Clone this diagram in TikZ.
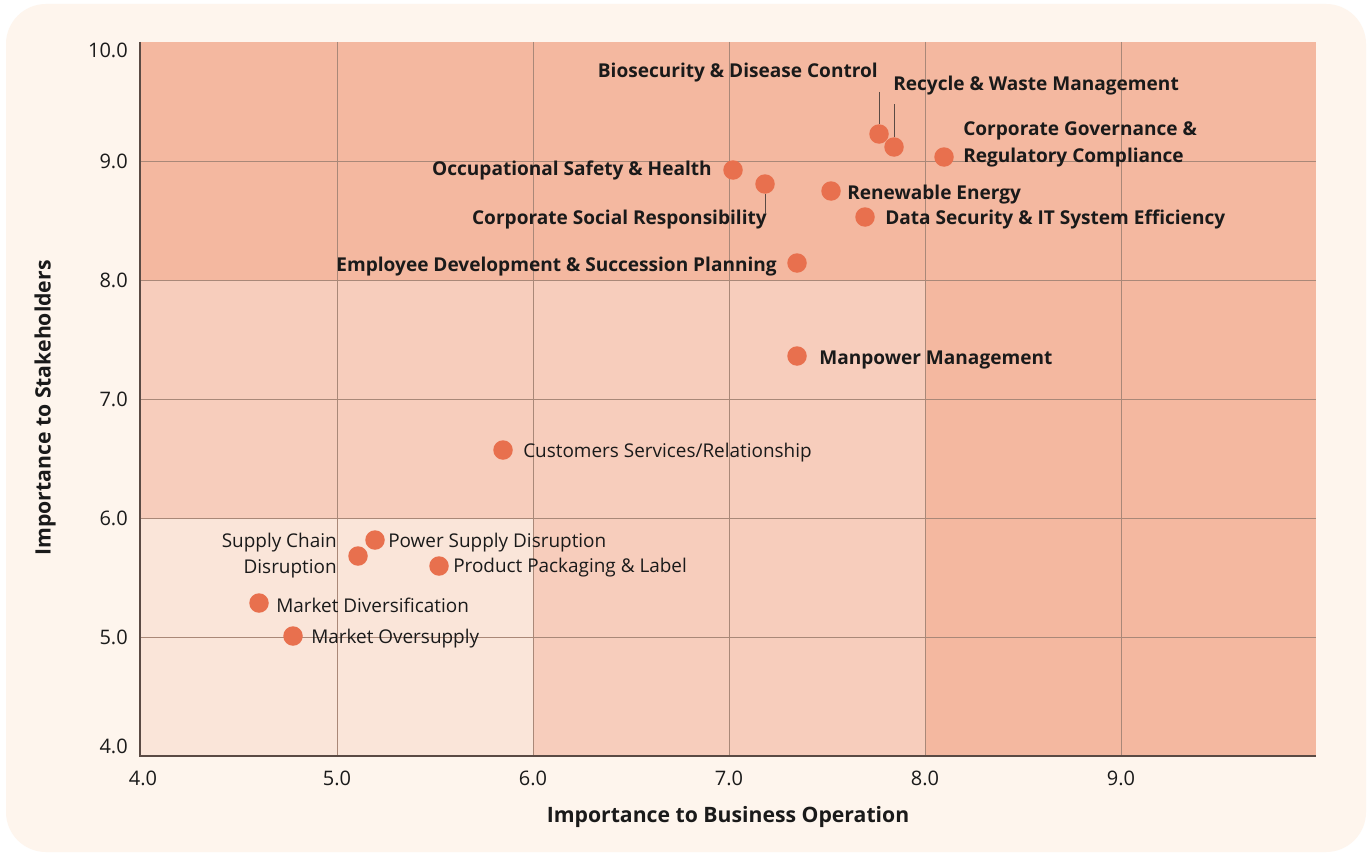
\documentclass[tikz,border=0pt]{standalone}
\usepackage{fontspec}
\setmainfont{Open Sans}
\definecolor{card}{HTML}{FEF5ED}
\definecolor{zdark}{HTML}{F4B8A0}
\definecolor{zmid}{HTML}{F7CDBC}
\definecolor{zlight}{HTML}{FAE5D9}
\definecolor{dotc}{HTML}{E8704E}
\definecolor{gridc}{HTML}{A98878}
\definecolor{axisc}{HTML}{5A4A44}
\definecolor{txt}{HTML}{1A1A1A}
\tikzset{
  pt/.style={circle,fill=dotc,minimum size=19.5pt*0.75,inner sep=0pt},
  lb/.style={font=\fontsize{14.3}{16}\selectfont\bfseries,text=txt,inner sep=0pt},
  lr/.style={font=\fontsize{14.2}{16}\selectfont,text=txt,inner sep=0pt},
  tick/.style={font=\fontsize{15}{16}\selectfont,text=txt,inner sep=0pt},
  gridl/.style={draw=gridc,line width=1pt*0.75},
  axisl/.style={draw=axisc,line width=1.5pt*0.75},
  leader/.style={draw=axisc,line width=1pt*0.75}
}
\begin{document}
\begin{tikzpicture}[x=0.75pt,y=-0.75pt]
\useasboundingbox (0,0) rectangle (1370,856);
\fill[white] (0,0) rectangle (1370,856);
\fill[card,rounded corners=30pt] (6,4) rectangle (1366,852);
% zones
\fill[zdark] (140,42) rectangle (1316,280);
\fill[zdark] (925,280) rectangle (1316,756);
\fill[zmid] (533,280) rectangle (925,756);
\fill[zmid] (140,280) rectangle (533,518);
\fill[zlight] (140,518) rectangle (533,756);
% grid
\foreach \x in {337,533,729,925,1121} \draw[gridl] (\x,42) -- (\x,756);
\foreach \y in {161,280,399,518,637} \draw[gridl] (140,\y) -- (1316,\y);
\draw[axisl] (140,42) -- (140,756) -- (1316,756);
% tick labels
\foreach \y/\t in {50/10.0,161/9.0,280/8.0,399/7.0,518/6.0,637/5.0,746/4.0}
  \node[tick,anchor=east] at (128,\y) {\t};
\foreach \x/\t in {143/4.0,337/5.0,533/6.0,729/7.0,925/8.0,1121/9.0}
  \node[tick] at (\x,778) {\t};
% axis titles
\node[lb,font=\fontsize{15.9}{17}\selectfont\bfseries] (xt) at (728,817) {Importance to Business Operation};
\node[lb,font=\fontsize{15.9}{17}\selectfont\bfseries,rotate=90] (yt) at (45,408) {Importance to Stakeholders};
% points
\node[pt] (bio) at (879,134) {};
\node[pt] (rec) at (894,147) {};
\node[pt] (cgr) at (944,157) {};
\node[pt] (occ) at (733,170) {};
\node[pt] (csr) at (765,184) {};
\node[pt] (ren) at (831,191) {};
\node[pt] (dat) at (865,217) {};
\node[pt] (emp) at (797,263) {};
\node[pt] (man) at (797,356) {};
\node[pt] (cus) at (503,450) {};
\node[pt] (pow) at (375,540) {};
\node[pt] (sup) at (358,556) {};
\node[pt] (pro) at (439,566) {};
\node[pt] (div) at (259,603) {};
\node[pt] (ovs) at (293,636) {};
% labels
\node[lb,anchor=east] (lbio) at (878,72.5) {Biosecurity \& Disease Control};
\node[lb,anchor=west] (lrec) at (893,85.5) {Recycle \& Waste Management};
\node[lb,anchor=west,align=left,font=\fontsize{14.3}{20.3}\selectfont\bfseries] (lcgr) at (963,144) {Corporate Governance \&\\Regulatory Compliance};
\node[lb,anchor=east] (locc) at (712,170.5) {Occupational Safety \& Health};
\node[lb,anchor=east] (lcsr) at (767,219.5) {Corporate Social Responsibility};
\node[lb,anchor=west] (lren) at (847,194.5) {Renewable Energy};
\node[lb,anchor=west] (ldat) at (885,219.5) {Data Security \& IT System Efficiency};
\node[lb,anchor=east] (lemp) at (777,266.5) {Employee Development \& Succession Planning};
\node[lb,anchor=west] (lman) at (819,359.5) {Manpower Management};
\node[lr,anchor=west] (lcus) at (523,453) {Customers Services/Relationship};
\node[lr,anchor=west] (lpow) at (388,543) {Power Supply Disruption};
\node[lr,anchor=east,align=right,font=\fontsize{14.2}{19.5}\selectfont] (lsup) at (337,556) {Supply Chain\\Disruption};
\node[lr,anchor=west] (lpro) at (453,568) {Product Packaging \& Label};
\node[lr,anchor=west] (ldiv) at (276,605) {Market Diversification};
\node[lr,anchor=west] (lovs) at (311,639) {Market Oversupply};
% leaders
\coordinate (bioTop) at (879,92);
\coordinate (recTop) at (894,104);
\coordinate (csrBot) at (765,214);
\draw[leader] (bioTop) -- (bio.north);
\draw[leader] (recTop) -- (rec.north);
\draw[leader] (csr.south) -- (csrBot);
\end{tikzpicture}
\end{document}
